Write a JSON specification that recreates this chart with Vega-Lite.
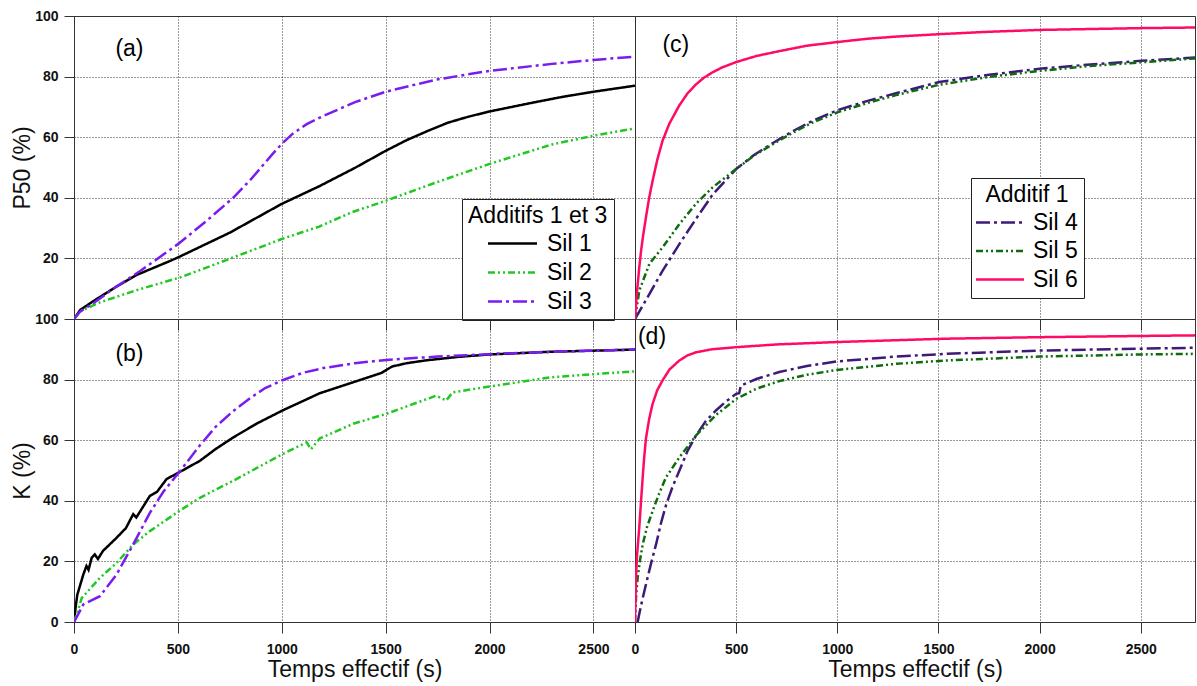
{
  "$schema": "https://vega.github.io/schema/vega-lite/v6.json",
  "padding": {"left": 11, "top": 8, "right": 0, "bottom": 0},
  "bounds": "flush",
  "spacing": 0,
  "columns": 2,
  "datasets": {
    "a": [
      {"t": 0, "v": 0, "serie": "Sil 1"}, {"t": 30, "v": 3, "serie": "Sil 1"}, {"t": 100, "v": 6.2, "serie": "Sil 1"}, {"t": 200, "v": 10.5, "serie": "Sil 1"}, {"t": 300, "v": 14.5, "serie": "Sil 1"}, {"t": 450, "v": 18.8, "serie": "Sil 1"}, {"t": 500, "v": 20.3, "serie": "Sil 1"}, {"t": 750, "v": 28.5, "serie": "Sil 1"}, {"t": 1000, "v": 38, "serie": "Sil 1"}, {"t": 1180, "v": 43.8, "serie": "Sil 1"}, {"t": 1350, "v": 49.8, "serie": "Sil 1"}, {"t": 1500, "v": 55.5, "serie": "Sil 1"}, {"t": 1600, "v": 59, "serie": "Sil 1"}, {"t": 1700, "v": 62, "serie": "Sil 1"}, {"t": 1800, "v": 64.8, "serie": "Sil 1"}, {"t": 1900, "v": 66.8, "serie": "Sil 1"}, {"t": 2000, "v": 68.5, "serie": "Sil 1"}, {"t": 2200, "v": 71.3, "serie": "Sil 1"}, {"t": 2350, "v": 73.3, "serie": "Sil 1"}, {"t": 2500, "v": 75, "serie": "Sil 1"}, {"t": 2700, "v": 77, "serie": "Sil 1"},
      {"t": 0, "v": 0, "serie": "Sil 2"}, {"t": 30, "v": 2.5, "serie": "Sil 2"}, {"t": 125, "v": 5.5, "serie": "Sil 2"}, {"t": 300, "v": 9.5, "serie": "Sil 2"}, {"t": 510, "v": 13.7, "serie": "Sil 2"}, {"t": 766, "v": 20.3, "serie": "Sil 2"}, {"t": 1000, "v": 26.4, "serie": "Sil 2"}, {"t": 1180, "v": 30.5, "serie": "Sil 2"}, {"t": 1340, "v": 35.3, "serie": "Sil 2"}, {"t": 1500, "v": 39, "serie": "Sil 2"}, {"t": 1740, "v": 45, "serie": "Sil 2"}, {"t": 2000, "v": 51.2, "serie": "Sil 2"}, {"t": 2300, "v": 57.6, "serie": "Sil 2"}, {"t": 2500, "v": 60.5, "serie": "Sil 2"}, {"t": 2700, "v": 62.9, "serie": "Sil 2"},
      {"t": 0, "v": 0, "serie": "Sil 3"}, {"t": 30, "v": 2.5, "serie": "Sil 3"}, {"t": 93, "v": 5.2, "serie": "Sil 3"}, {"t": 200, "v": 10.5, "serie": "Sil 3"}, {"t": 320, "v": 15.9, "serie": "Sil 3"}, {"t": 506, "v": 25, "serie": "Sil 3"}, {"t": 640, "v": 32.5, "serie": "Sil 3"}, {"t": 766, "v": 40, "serie": "Sil 3"}, {"t": 850, "v": 46, "serie": "Sil 3"}, {"t": 950, "v": 54, "serie": "Sil 3"}, {"t": 1000, "v": 57.8, "serie": "Sil 3"}, {"t": 1050, "v": 61, "serie": "Sil 3"}, {"t": 1120, "v": 64.3, "serie": "Sil 3"}, {"t": 1200, "v": 67, "serie": "Sil 3"}, {"t": 1350, "v": 71.5, "serie": "Sil 3"}, {"t": 1500, "v": 75, "serie": "Sil 3"}, {"t": 1743, "v": 79, "serie": "Sil 3"}, {"t": 2000, "v": 81.9, "serie": "Sil 3"}, {"t": 2300, "v": 84.2, "serie": "Sil 3"}, {"t": 2500, "v": 85.5, "serie": "Sil 3"}, {"t": 2700, "v": 86.6, "serie": "Sil 3"}
    ],
    "b": [
      {"t": 0, "v": 0, "serie": "Sil 1"}, {"t": 8, "v": 5, "serie": "Sil 1"}, {"t": 16, "v": 9, "serie": "Sil 1"}, {"t": 45, "v": 15.7, "serie": "Sil 1"}, {"t": 60, "v": 18.5, "serie": "Sil 1"}, {"t": 70, "v": 17.2, "serie": "Sil 1"}, {"t": 85, "v": 21.2, "serie": "Sil 1"}, {"t": 100, "v": 22.3, "serie": "Sil 1"}, {"t": 115, "v": 20.8, "serie": "Sil 1"}, {"t": 140, "v": 23.5, "serie": "Sil 1"}, {"t": 205, "v": 27.8, "serie": "Sil 1"}, {"t": 250, "v": 31, "serie": "Sil 1"}, {"t": 285, "v": 35.6, "serie": "Sil 1"}, {"t": 300, "v": 34.5, "serie": "Sil 1"}, {"t": 365, "v": 41.6, "serie": "Sil 1"}, {"t": 400, "v": 43, "serie": "Sil 1"}, {"t": 446, "v": 47.2, "serie": "Sil 1"}, {"t": 506, "v": 49.4, "serie": "Sil 1"}, {"t": 606, "v": 53.2, "serie": "Sil 1"}, {"t": 680, "v": 57, "serie": "Sil 1"}, {"t": 766, "v": 60.9, "serie": "Sil 1"}, {"t": 880, "v": 65.5, "serie": "Sil 1"}, {"t": 1003, "v": 69.8, "serie": "Sil 1"}, {"t": 1183, "v": 75.5, "serie": "Sil 1"}, {"t": 1343, "v": 79.1, "serie": "Sil 1"}, {"t": 1480, "v": 82.2, "serie": "Sil 1"}, {"t": 1530, "v": 84.3, "serie": "Sil 1"}, {"t": 1600, "v": 85.4, "serie": "Sil 1"}, {"t": 1700, "v": 86.4, "serie": "Sil 1"}, {"t": 1850, "v": 87.5, "serie": "Sil 1"}, {"t": 2000, "v": 88.3, "serie": "Sil 1"}, {"t": 2300, "v": 89.2, "serie": "Sil 1"}, {"t": 2700, "v": 89.9, "serie": "Sil 1"},
      {"t": 0, "v": 0, "serie": "Sil 2"}, {"t": 20, "v": 4, "serie": "Sil 2"}, {"t": 37, "v": 7.9, "serie": "Sil 2"}, {"t": 125, "v": 14.6, "serie": "Sil 2"}, {"t": 205, "v": 19.5, "serie": "Sil 2"}, {"t": 285, "v": 25.6, "serie": "Sil 2"}, {"t": 365, "v": 30, "serie": "Sil 2"}, {"t": 506, "v": 36.6, "serie": "Sil 2"}, {"t": 606, "v": 41, "serie": "Sil 2"}, {"t": 766, "v": 46.6, "serie": "Sil 2"}, {"t": 1003, "v": 55.4, "serie": "Sil 2"}, {"t": 1120, "v": 59.3, "serie": "Sil 2"}, {"t": 1140, "v": 57, "serie": "Sil 2"}, {"t": 1183, "v": 60.6, "serie": "Sil 2"}, {"t": 1343, "v": 65.4, "serie": "Sil 2"}, {"t": 1503, "v": 68.7, "serie": "Sil 2"}, {"t": 1743, "v": 74.7, "serie": "Sil 2"}, {"t": 1791, "v": 73.1, "serie": "Sil 2"}, {"t": 1823, "v": 75.8, "serie": "Sil 2"}, {"t": 2000, "v": 77.7, "serie": "Sil 2"}, {"t": 2300, "v": 80.8, "serie": "Sil 2"}, {"t": 2500, "v": 81.8, "serie": "Sil 2"}, {"t": 2700, "v": 82.7, "serie": "Sil 2"},
      {"t": 0, "v": 0, "serie": "Sil 3"}, {"t": 20, "v": 2.5, "serie": "Sil 3"}, {"t": 45, "v": 5.8, "serie": "Sil 3"}, {"t": 125, "v": 8.5, "serie": "Sil 3"}, {"t": 205, "v": 15.7, "serie": "Sil 3"}, {"t": 285, "v": 25.6, "serie": "Sil 3"}, {"t": 365, "v": 36, "serie": "Sil 3"}, {"t": 430, "v": 43, "serie": "Sil 3"}, {"t": 506, "v": 49.4, "serie": "Sil 3"}, {"t": 606, "v": 58.3, "serie": "Sil 3"}, {"t": 680, "v": 64.3, "serie": "Sil 3"}, {"t": 766, "v": 69.6, "serie": "Sil 3"}, {"t": 850, "v": 74, "serie": "Sil 3"}, {"t": 920, "v": 77.2, "serie": "Sil 3"}, {"t": 1003, "v": 79.8, "serie": "Sil 3"}, {"t": 1100, "v": 82.2, "serie": "Sil 3"}, {"t": 1200, "v": 83.8, "serie": "Sil 3"}, {"t": 1350, "v": 85.4, "serie": "Sil 3"}, {"t": 1503, "v": 86.5, "serie": "Sil 3"}, {"t": 1750, "v": 87.6, "serie": "Sil 3"}, {"t": 2000, "v": 88.4, "serie": "Sil 3"}, {"t": 2300, "v": 89.2, "serie": "Sil 3"}, {"t": 2700, "v": 89.9, "serie": "Sil 3"}
    ],
    "c": [
      {"t": 0, "v": 0, "serie": "Sil 4"}, {"t": 71, "v": 8.2, "serie": "Sil 4"}, {"t": 136, "v": 15.9, "serie": "Sil 4"}, {"t": 219, "v": 24.7, "serie": "Sil 4"}, {"t": 301, "v": 33, "serie": "Sil 4"}, {"t": 383, "v": 41, "serie": "Sil 4"}, {"t": 500, "v": 49.5, "serie": "Sil 4"}, {"t": 590, "v": 54.2, "serie": "Sil 4"}, {"t": 680, "v": 58, "serie": "Sil 4"}, {"t": 780, "v": 62, "serie": "Sil 4"}, {"t": 877, "v": 65.4, "serie": "Sil 4"}, {"t": 1000, "v": 68.9, "serie": "Sil 4"}, {"t": 1150, "v": 72, "serie": "Sil 4"}, {"t": 1290, "v": 74.5, "serie": "Sil 4"}, {"t": 1503, "v": 78.2, "serie": "Sil 4"}, {"t": 1750, "v": 80.6, "serie": "Sil 4"}, {"t": 2000, "v": 82.6, "serie": "Sil 4"}, {"t": 2250, "v": 84, "serie": "Sil 4"}, {"t": 2500, "v": 85.2, "serie": "Sil 4"}, {"t": 2768, "v": 86.3, "serie": "Sil 4"},
      {"t": 0, "v": 0, "serie": "Sil 5"}, {"t": 21, "v": 9.3, "serie": "Sil 5"}, {"t": 71, "v": 18.2, "serie": "Sil 5"}, {"t": 136, "v": 23.6, "serie": "Sil 5"}, {"t": 219, "v": 31.3, "serie": "Sil 5"}, {"t": 301, "v": 38, "serie": "Sil 5"}, {"t": 383, "v": 43.4, "serie": "Sil 5"}, {"t": 500, "v": 49.5, "serie": "Sil 5"}, {"t": 590, "v": 54, "serie": "Sil 5"}, {"t": 680, "v": 57.6, "serie": "Sil 5"}, {"t": 780, "v": 61.5, "serie": "Sil 5"}, {"t": 877, "v": 64.8, "serie": "Sil 5"}, {"t": 1000, "v": 68.2, "serie": "Sil 5"}, {"t": 1150, "v": 71.3, "serie": "Sil 5"}, {"t": 1290, "v": 73.9, "serie": "Sil 5"}, {"t": 1503, "v": 77.3, "serie": "Sil 5"}, {"t": 1750, "v": 79.9, "serie": "Sil 5"}, {"t": 2000, "v": 81.9, "serie": "Sil 5"}, {"t": 2250, "v": 83.5, "serie": "Sil 5"}, {"t": 2500, "v": 84.7, "serie": "Sil 5"}, {"t": 2768, "v": 86, "serie": "Sil 5"},
      {"t": 0, "v": 0, "serie": "Sil 6"}, {"t": 10, "v": 9, "serie": "Sil 6"}, {"t": 21, "v": 17, "serie": "Sil 6"}, {"t": 30, "v": 22.5, "serie": "Sil 6"}, {"t": 40, "v": 27.5, "serie": "Sil 6"}, {"t": 54, "v": 33.5, "serie": "Sil 6"}, {"t": 70, "v": 40, "serie": "Sil 6"}, {"t": 87, "v": 45.6, "serie": "Sil 6"}, {"t": 110, "v": 52.5, "serie": "Sil 6"}, {"t": 136, "v": 58.8, "serie": "Sil 6"}, {"t": 170, "v": 64.5, "serie": "Sil 6"}, {"t": 219, "v": 70.5, "serie": "Sil 6"}, {"t": 260, "v": 74.5, "serie": "Sil 6"}, {"t": 301, "v": 77.4, "serie": "Sil 6"}, {"t": 340, "v": 79.6, "serie": "Sil 6"}, {"t": 383, "v": 81.4, "serie": "Sil 6"}, {"t": 430, "v": 83, "serie": "Sil 6"}, {"t": 500, "v": 84.8, "serie": "Sil 6"}, {"t": 600, "v": 86.8, "serie": "Sil 6"}, {"t": 713, "v": 88.4, "serie": "Sil 6"}, {"t": 850, "v": 90.2, "serie": "Sil 6"}, {"t": 1000, "v": 91.4, "serie": "Sil 6"}, {"t": 1150, "v": 92.5, "serie": "Sil 6"}, {"t": 1290, "v": 93.2, "serie": "Sil 6"}, {"t": 1503, "v": 94, "serie": "Sil 6"}, {"t": 1750, "v": 94.8, "serie": "Sil 6"}, {"t": 2000, "v": 95.4, "serie": "Sil 6"}, {"t": 2500, "v": 96, "serie": "Sil 6"}, {"t": 2768, "v": 96.2, "serie": "Sil 6"}
    ],
    "d": [
      {"t": 13, "v": 0, "serie": "Sil 4"}, {"t": 30, "v": 5.5, "serie": "Sil 4"}, {"t": 54, "v": 12.4, "serie": "Sil 4"}, {"t": 80, "v": 19.5, "serie": "Sil 4"}, {"t": 104, "v": 25.6, "serie": "Sil 4"}, {"t": 128, "v": 32.5, "serie": "Sil 4"}, {"t": 153, "v": 38.5, "serie": "Sil 4"}, {"t": 185, "v": 44.5, "serie": "Sil 4"}, {"t": 219, "v": 49.9, "serie": "Sil 4"}, {"t": 260, "v": 56.5, "serie": "Sil 4"}, {"t": 301, "v": 61.5, "serie": "Sil 4"}, {"t": 350, "v": 66.3, "serie": "Sil 4"}, {"t": 400, "v": 69.8, "serie": "Sil 4"}, {"t": 450, "v": 72.8, "serie": "Sil 4"}, {"t": 500, "v": 75.3, "serie": "Sil 4"}, {"t": 515, "v": 75.5, "serie": "Sil 4"}, {"t": 523, "v": 78, "serie": "Sil 4"}, {"t": 600, "v": 80.2, "serie": "Sil 4"}, {"t": 713, "v": 82.5, "serie": "Sil 4"}, {"t": 850, "v": 84.5, "serie": "Sil 4"}, {"t": 1000, "v": 86, "serie": "Sil 4"}, {"t": 1290, "v": 87.6, "serie": "Sil 4"}, {"t": 1536, "v": 88.5, "serie": "Sil 4"}, {"t": 2000, "v": 89.6, "serie": "Sil 4"}, {"t": 2500, "v": 90.2, "serie": "Sil 4"}, {"t": 2768, "v": 90.5, "serie": "Sil 4"},
      {"t": 0, "v": 0, "serie": "Sil 5"}, {"t": 5, "v": 8, "serie": "Sil 5"}, {"t": 13, "v": 14.6, "serie": "Sil 5"}, {"t": 25, "v": 20.5, "serie": "Sil 5"}, {"t": 38, "v": 25.6, "serie": "Sil 5"}, {"t": 60, "v": 31.5, "serie": "Sil 5"}, {"t": 87, "v": 36.6, "serie": "Sil 5"}, {"t": 120, "v": 42.5, "serie": "Sil 5"}, {"t": 153, "v": 47.7, "serie": "Sil 5"}, {"t": 219, "v": 54.3, "serie": "Sil 5"}, {"t": 301, "v": 61.5, "serie": "Sil 5"}, {"t": 400, "v": 68.3, "serie": "Sil 5"}, {"t": 500, "v": 73.6, "serie": "Sil 5"}, {"t": 600, "v": 77, "serie": "Sil 5"}, {"t": 713, "v": 79.5, "serie": "Sil 5"}, {"t": 850, "v": 81.6, "serie": "Sil 5"}, {"t": 1000, "v": 83.2, "serie": "Sil 5"}, {"t": 1290, "v": 85.2, "serie": "Sil 5"}, {"t": 1536, "v": 86.3, "serie": "Sil 5"}, {"t": 2000, "v": 87.6, "serie": "Sil 5"}, {"t": 2500, "v": 88.3, "serie": "Sil 5"}, {"t": 2768, "v": 88.5, "serie": "Sil 5"},
      {"t": 0, "v": 0, "serie": "Sil 6"}, {"t": 5, "v": 14.6, "serie": "Sil 6"}, {"t": 10, "v": 22, "serie": "Sil 6"}, {"t": 21, "v": 31.1, "serie": "Sil 6"}, {"t": 30, "v": 40, "serie": "Sil 6"}, {"t": 38, "v": 47.7, "serie": "Sil 6"}, {"t": 45, "v": 54, "serie": "Sil 6"}, {"t": 54, "v": 60.5, "serie": "Sil 6"}, {"t": 70, "v": 67, "serie": "Sil 6"}, {"t": 87, "v": 72, "serie": "Sil 6"}, {"t": 110, "v": 76.5, "serie": "Sil 6"}, {"t": 136, "v": 79.7, "serie": "Sil 6"}, {"t": 170, "v": 83.3, "serie": "Sil 6"}, {"t": 219, "v": 86.3, "serie": "Sil 6"}, {"t": 260, "v": 88, "serie": "Sil 6"}, {"t": 301, "v": 89, "serie": "Sil 6"}, {"t": 380, "v": 90, "serie": "Sil 6"}, {"t": 500, "v": 90.7, "serie": "Sil 6"}, {"t": 700, "v": 91.6, "serie": "Sil 6"}, {"t": 1000, "v": 92.4, "serie": "Sil 6"}, {"t": 1536, "v": 93.5, "serie": "Sil 6"}, {"t": 2000, "v": 94, "serie": "Sil 6"}, {"t": 2500, "v": 94.4, "serie": "Sil 6"}, {"t": 2768, "v": 94.6, "serie": "Sil 6"}
    ]
  },
  "resolve": {
    "scale": {"color": "independent", "strokeDash": "independent"},
    "legend": {"color": "independent", "strokeDash": "independent"}
  },
  "concat": [
    {
      "width": 561, "height": 303,
      "layer": [
        {
          "data": {"name": "a"},
          "mark": {"type": "line", "strokeWidth": 2.5, "clip": true},
          "encoding": {
            "x": {"field": "t", "type": "quantitative", "scale": {"domain": [0, 2700], "nice": false},
                  "axis": {"values": [0, 500, 1000, 1500, 2000, 2500], "labels": false, "title": null}},
            "y": {"field": "v", "type": "quantitative", "scale": {"domain": [0, 100], "nice": false},
                  "axis": {"values": [20, 40, 60, 80, 100], "title": "P50 (%)"}},
            "color": {"field": "serie", "type": "nominal",
                      "scale": {"domain": ["Sil 1", "Sil 2", "Sil 3"], "range": ["#000000", "#22c822", "#7a1cf0"]},
                      "legend": {"title": "Additifs 1 et 3", "orient": "none", "legendX": 388, "legendY": 183, "direction": "vertical", "padding": 6, "strokeColor": "#222", "fillColor": "white", "titleFontSize": 23, "titleFontWeight": "normal", "titleColor": "black", "titlePadding": 4, "titleLimit": 400, "labelFontSize": 23, "labelColor": "black", "labelLimit": 300, "symbolType": "M-4.9,0H4.9", "symbolSize": 100, "symbolStrokeWidth": 2.5, "symbolOffset": 33, "labelOffset": 23, "rowPadding": 5}},
            "strokeDash": {"field": "serie", "type": "nominal",
                      "scale": {"domain": ["Sil 1", "Sil 2", "Sil 3"], "range": [[1, 0], [7, 3, 2, 3, 2, 3], [14, 4, 3, 4]]},
                      "legend": {"title": "Additifs 1 et 3", "orient": "none", "legendX": 388, "legendY": 183, "direction": "vertical", "padding": 6, "strokeColor": "#222", "fillColor": "white", "titleFontSize": 23, "titleFontWeight": "normal", "titleColor": "black", "titlePadding": 4, "titleLimit": 400, "labelFontSize": 23, "labelColor": "black", "labelLimit": 300, "symbolType": "M-4.9,0H4.9", "symbolSize": 100, "symbolStrokeWidth": 2.5, "symbolOffset": 33, "labelOffset": 23, "rowPadding": 5}}
          }
        },
        {
          "data": {"values": [{"t": 267, "v": 89, "label": "(a)"}]},
          "mark": {"type": "text", "fontSize": 23, "font": "Liberation Sans", "color": "black"},
          "encoding": {"x": {"field": "t", "type": "quantitative"}, "y": {"field": "v", "type": "quantitative"}, "text": {"field": "label"}}
        }
      ]
    },
    {
      "width": 560, "height": 303,
      "layer": [
        {
          "data": {"name": "c"},
          "mark": {"type": "line", "strokeWidth": 2.5, "clip": true},
          "encoding": {
            "x": {"field": "t", "type": "quantitative", "scale": {"domain": [0, 2768], "nice": false},
                  "axis": {"values": [0, 500, 1000, 1500, 2000, 2500], "labels": false, "title": null}},
            "y": {"field": "v", "type": "quantitative", "scale": {"domain": [0, 100], "nice": false},
                  "axis": {"values": [20, 40, 60, 80], "labels": false, "ticks": false, "domain": false, "title": null}},
            "color": {"field": "serie", "type": "nominal",
                      "scale": {"domain": ["Sil 4", "Sil 5", "Sil 6"], "range": ["#3d1a78", "#0e6b0e", "#ff0a64"]},
                      "legend": {"title": "Additif 1", "orient": "none", "legendX": 336, "legendY": 162, "direction": "vertical", "padding": 6, "strokeColor": "#222", "fillColor": "white", "titleFontSize": 23, "titleFontWeight": "normal", "titleColor": "black", "titlePadding": 4, "titleAnchor": "middle", "titleAlign": "center", "titleLimit": 400, "labelFontSize": 23, "labelColor": "black", "labelLimit": 300, "symbolType": "M-4.8,0H4.8", "symbolSize": 100, "symbolStrokeWidth": 2.5, "symbolOffset": 11.5, "labelOffset": 21.5, "rowPadding": 4.5}},
            "strokeDash": {"field": "serie", "type": "nominal",
                      "scale": {"domain": ["Sil 4", "Sil 5", "Sil 6"], "range": [[14, 4, 3, 4], [7, 3, 2, 3, 2, 3], [1, 0]]},
                      "legend": {"title": "Additif 1", "orient": "none", "legendX": 336, "legendY": 162, "direction": "vertical", "padding": 6, "strokeColor": "#222", "fillColor": "white", "titleFontSize": 23, "titleFontWeight": "normal", "titleColor": "black", "titlePadding": 4, "titleAnchor": "middle", "titleAlign": "center", "titleLimit": 400, "labelFontSize": 23, "labelColor": "black", "labelLimit": 300, "symbolType": "M-4.8,0H4.8", "symbolSize": 100, "symbolStrokeWidth": 2.5, "symbolOffset": 11.5, "labelOffset": 21.5, "rowPadding": 4.5}}
          }
        },
        {
          "data": {"values": [{"t": 202, "v": 90.4, "label": "(c)"}]},
          "mark": {"type": "text", "fontSize": 23, "font": "Liberation Sans", "color": "black"},
          "encoding": {"x": {"field": "t", "type": "quantitative"}, "y": {"field": "v", "type": "quantitative"}, "text": {"field": "label"}}
        }
      ]
    },
    {
      "width": 561, "height": 303,
      "layer": [
        {
          "data": {"name": "b"},
          "mark": {"type": "line", "strokeWidth": 2.5, "clip": true},
          "encoding": {
            "x": {"field": "t", "type": "quantitative", "scale": {"domain": [0, 2700], "nice": false},
                  "axis": {"values": [0, 500, 1000, 1500, 2000, 2500], "format": "d", "title": "Temps effectif (s)"}},
            "y": {"field": "v", "type": "quantitative", "scale": {"domain": [0, 100], "nice": false},
                  "axis": {"values": [0, 20, 40, 60, 80, 100], "title": "K (%)"}},
            "color": {"field": "serie", "type": "nominal",
                      "scale": {"domain": ["Sil 1", "Sil 2", "Sil 3"], "range": ["#000000", "#22c822", "#7a1cf0"]}, "legend": null},
            "strokeDash": {"field": "serie", "type": "nominal",
                      "scale": {"domain": ["Sil 1", "Sil 2", "Sil 3"], "range": [[1, 0], [7, 3, 2, 3, 2, 3], [14, 4, 3, 4]]}, "legend": null}
          }
        },
        {
          "data": {"values": [{"t": 267, "v": 88.6, "label": "(b)"}]},
          "mark": {"type": "text", "fontSize": 23, "font": "Liberation Sans", "color": "black"},
          "encoding": {"x": {"field": "t", "type": "quantitative"}, "y": {"field": "v", "type": "quantitative"}, "text": {"field": "label"}}
        }
      ]
    },
    {
      "width": 560, "height": 303,
      "layer": [
        {
          "data": {"name": "d"},
          "mark": {"type": "line", "strokeWidth": 2.5, "clip": true},
          "encoding": {
            "x": {"field": "t", "type": "quantitative", "scale": {"domain": [0, 2768], "nice": false},
                  "axis": {"values": [0, 500, 1000, 1500, 2000, 2500], "format": "d", "title": "Temps effectif (s)"}},
            "y": {"field": "v", "type": "quantitative", "scale": {"domain": [0, 100], "nice": false},
                  "axis": {"values": [20, 40, 60, 80], "labels": false, "ticks": false, "domain": false, "title": null}},
            "color": {"field": "serie", "type": "nominal",
                      "scale": {"domain": ["Sil 4", "Sil 5", "Sil 6"], "range": ["#3d1a78", "#0e6b0e", "#ff0a64"]}, "legend": null},
            "strokeDash": {"field": "serie", "type": "nominal",
                      "scale": {"domain": ["Sil 4", "Sil 5", "Sil 6"], "range": [[14, 4, 3, 4], [7, 3, 2, 3, 2, 3], [1, 0]]}, "legend": null}
          }
        },
        {
          "data": {"values": [{"t": 84, "v": 94, "label": "(d)"}]},
          "mark": {"type": "text", "fontSize": 23, "font": "Liberation Sans", "color": "black"},
          "encoding": {"x": {"field": "t", "type": "quantitative"}, "y": {"field": "v", "type": "quantitative"}, "text": {"field": "label"}}
        }
      ]
    }
  ],
  "config": {
    "font": "Liberation Sans",
    "view": {"stroke": "#333", "strokeWidth": 1},
    "axis": {
      "domainColor": "#333", "tickColor": "#333", "gridColor": "#333", "gridDash": [1, 2], "gridOpacity": 1, "grid": true,
      "labelFont": "Liberation Sans", "labelFontSize": 14, "labelFontWeight": "bold", "labelColor": "#111", "labelFlush": false, "labelOverlap": false,
      "titleFont": "Liberation Sans", "titleFontSize": 23, "titleFontWeight": "normal", "titleColor": "#111"
    },
    "axisX": {"tickSize": 11, "labelPadding": 9, "titlePadding": 2},
    "axisY": {"tickSize": 10, "labelPadding": 6, "titlePadding": 0},
    "legend": {"labelFont": "Liberation Sans", "titleFont": "Liberation Sans"}
  }
}
